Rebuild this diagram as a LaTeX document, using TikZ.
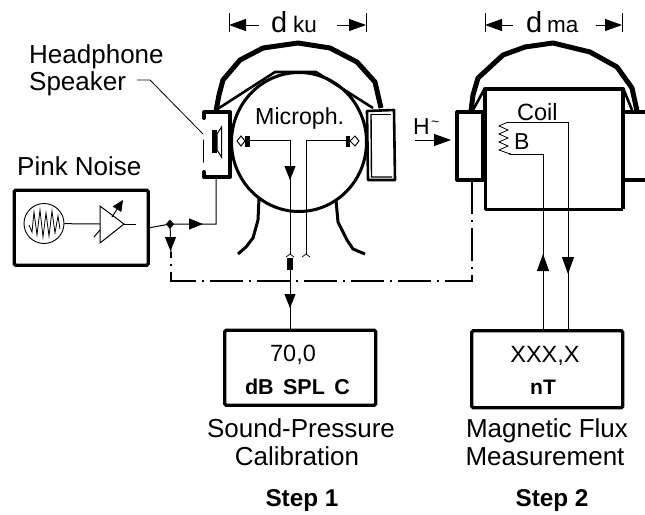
\documentclass[tikz,border=0pt]{standalone}
\usepackage{fontspec}
\setmainfont{Liberation Sans}
\usetikzlibrary{arrows.meta,calc}
\newcommand{\fsz}[1]{\fontsize{#1}{#1}\selectfont}
\tikzset{
  txt/.style={inner sep=0pt,anchor=base,text=black},
  txtw/.style={inner sep=0pt,anchor=base west,text=black},
  heavy/.style={line width=4pt,line join=round,line cap=round},
  band/.style={line width=5pt,line join=round,line cap=butt},
  mid/.style={line width=2.6pt,line join=round},
  wire/.style={line width=1pt},
  hair/.style={line width=0.7pt},
  tip/.style={line width=1pt,-{Triangle[length=14pt,width=11pt]}},
  bigtip/.style={line width=1pt,-{Triangle[length=17pt,width=12pt]}},
  dashdot/.style={line width=2pt,dash pattern=on 33pt off 6pt on 2pt off 6pt,dash phase=27pt},
  display/.style={draw,line width=3.4pt,rounded corners=1.5pt,inner sep=0pt,anchor=north west}
}
\begin{document}
\begin{tikzpicture}[x=1pt,y=-1pt]
\useasboundingbox (0,0) rectangle (645,514);
% ---- named points
\coordinate (junction) at (170,224);
\coordinate (spkwire) at (216,224);
\coordinate (spkout) at (216,162);
\coordinate (ddL) at (171,252);
\coordinate (ddLc) at (171,280.5);
\coordinate (ddRc) at (472,280.5);
\coordinate (ddR) at (472,181);
\coordinate (micLjack) at (290,255);
\coordinate (micRjack) at (306,255);
\coordinate (micLc) at (290,140);
\coordinate (micRc) at (306,140);
\coordinate (coilA) at (568,122);
\coordinate (coilB) at (543,154);
% ---- boxes
\node[display,minimum width=134pt,minimum height=75pt] (pink) at (12.5,188.5) {};
\node[display,minimum width=151pt,minimum height=75pt] (box1) at (223,328.5) {};
\node[display,minimum width=151pt,minimum height=77pt] (box2) at (470,329) {};
\node[draw,circle,line width=0.9pt,minimum size=40pt,inner sep=0pt] (osc) at (44,223.5) {};
\draw[line width=0.8pt] (29,225)--(32,232)--(34,212)--(37,235)--(40,210)--(43,237)--(46,213)--(49,236)--(52,211)--(55,233)--(58,216)--(60,229);
% amplifier
\coordinate (ampin) at (100,224);
\coordinate (ampout) at (124,224);
\coordinate (ampend) at (136,224);
\draw[wire,line join=miter] (100,206)--(124,224)--(100,243)--cycle;
\draw[wire] (osc) -- (ampin);
\draw[wire] (ampout) -- (ampend);
\draw[wire] (94,237)--(100,230);
\draw[wire,-{Triangle[length=11pt,width=10pt]}] (112,217)--(123,200);
% output wire
\draw[wire] (pink.east) -- (junction) -- (spkwire) -- (spkout) -- (203.5,162) -- (203.5,140) -- (212,140);
\draw[tip] (189,224) -- (203,224);
\fill (170,219.5)--(174,224)--(170,229)--(166,224)--cycle;
\draw[wire] (junction) -- (ddL);
\draw[tip] (170.5,232) -- (170.5,251);
% dash-dot reference line
\draw[dashdot] (ddL) -- (ddLc) -- (ddRc) -- (ddR);
% ---- Step 1 headphone
\draw[band] (216,111)--(219,95)--(223,80)--(240,60)--(263,48)--(298,43)--(330,48)--(357,62)--(375,82)--(381,108);
\draw[mid] (216,110)--(275,72)--(316,72)--(373,108);
\draw[line width=3pt] (299,142) ellipse [x radius=67.5pt,y radius=69.5pt];
\fill[white] (204,113) rectangle (229,177);
\draw[heavy] (204,118)--(204,112)--(230,112)--(230,177)--(204,177)--(204,172);
\draw[line width=2.6pt,line join=round] (367,111)--(394,110)--(395,180)--(368,180)--cycle;
\draw[line width=1pt] (371,114)--(391,114);
\draw[line width=1.4pt] (371,114)--(371.5,177)--(392,177);
% speaker
\fill (212,130) rectangle (217,153);
\draw[line width=1pt,fill=white] (217,134)--(221.5,127)--(221.5,157)--(217,150)--cycle;
\draw[line width=0.8pt] (137,80)--(150,80)--(203,134);
% neck
\draw[line width=3pt,line join=round] (259,198)--(258,220)--(253,238)--(246,247)--(238,254);
\draw[line width=3pt,line join=round] (336,200)--(338,222)--(347,240)--(353,249)--(365,254);
% microphones
\draw[wire] (248,140) -- (micLc) -- (micLjack);
\draw[wire] (348,140) -- (micRc) -- (micRjack);
\draw[tip] (290,166) -- (290,180);
\fill (245,135.5) rectangle (249.5,147);
\fill (346,135.5) rectangle (350,147);
\draw[wire,fill=white] (245,141)--(241,136)--(237,141)--(241,146)--cycle;
\draw[wire,fill=white] (350,141)--(355,136)--(359,141)--(355,146)--cycle;
\draw[hair] (286,257)--(290,254)--(294,257);
\draw[hair] (302,257)--(306,254)--(310,257);
\fill (287,257.5) rectangle (293,270);
\draw[wire] (290,270) -- (box1.north -| 290,0);
\draw[tip] (290,290) -- (290,308);
% ---- Step 2 headphone
\draw[band] (471,111)--(473,95)--(478,78)--(503,55)--(525,47)--(553,43)--(590,52)--(617,67)--(632,88)--(637,111);
\draw[mid] (473,110)--(485,88);
\draw[mid] (623,88)--(632,110);
\draw[line width=3.2pt,line join=round] (457,112) rectangle (483,180);
\draw[line width=4pt,line join=round] (485,180)--(485,89)--(622.5,89)--(622.5,209);
\draw[line width=3pt,line join=round] (485,180)--(485,209.5)--(622.5,209.5);
\draw[line width=3.2pt] (622,112)--(645,112);
\draw[line width=3.2pt] (622,180)--(645,180);
% coil
\draw[wire] (508,122) -- (coilA) -- (coilA |- box2.north);
\draw[wire] (510,154) -- (coilB) -- (coilB |- box2.north);
\draw[line width=0.8pt] (508,122)--(499,126)--(508,130)--(499,134)--(508,138)--(499,142)--(508,146)--(499,150)--(510,154);
\fill (510,154) circle (1.2pt);
\draw[bigtip] (543,274) -- (543,254);
\draw[bigtip] (568,257) -- (568,274);
% H field arrow
\draw[bigtip] (415,140) -- (451,140);
\node[txtw,font=\fsz{23}] (hlabel) at (413,134) {H};
\node[txtw,font=\fsz{14}] (hsub) at (431,128) {\raisebox{2pt}{\textasciitilde}};
% dimensions
\coordinate (kuL) at (229,25); \coordinate (kuR) at (366,25);
\coordinate (maL) at (485,25); \coordinate (maR) at (622,25);
\draw[wire] (229,13)--(229,32); \draw[wire] (366,13)--(366,32);
\draw[wire] (485,13)--(485,32); \draw[wire] (622,13)--(622,32);
\draw[line width=1pt,-{Triangle[length=17pt,width=12pt]}] (259,25) -- (kuL);
\draw[line width=1pt,-{Triangle[length=17pt,width=12pt]}] (337,25) -- (kuR);
\draw[line width=1pt,-{Triangle[length=17pt,width=12pt]}] (513,25) -- (maL);
\draw[line width=1pt,-{Triangle[length=17pt,width=12pt]}] (596,25) -- (maR);
\node[txtw,font=\fsz{29}] (dku) at (271,32) {d};
\node[txtw,font=\fsz{22.5}] (ku) at (293,32) {ku};
\node[txtw,font=\fsz{29}] (dma) at (526,32) {d};
\node[txtw,font=\fsz{22.5}] (ma) at (547,32) {ma};
% labels
\node[txtw,font=\fsz{26}] (hp) at (29,63) {Headphone};
\node[txtw,font=\fsz{26}] (spk) at (29,90) {Speaker};
\node[txtw,font=\fsz{26}] (pn) at (17,175) {Pink Noise};
\node[txtw,font=\fsz{23.2}] (mic) at (255,124) {Microph.};
\node[txtw,font=\fsz{23.5}] (coil) at (517,120) {Coil};
\node[txtw,font=\fsz{23}] (bl) at (514,149) {B};
\node[txt,font=\fsz{23.5}] (v1) at (293,361) {70,0};
\node[txt,font=\bfseries\fsz{21.5}] (u1) at (297.5,394) {dB\hspace{3.5pt} SPL\hspace{3.5pt} C};
\node[txt,font=\fsz{23.5}] (v2) at (545,362) {XXX,X};
\node[txt,font=\bfseries\fsz{21}] (u2) at (543,394) {nT};
\node[txt,font=\fsz{26}] (c1a) at (301,437) {Sound-Pressure};
\node[txt,font=\fsz{26}] (c1b) at (297,465) {Calibration};
\node[txt,font=\fsz{26}] (c2a) at (547,437) {Magnetic Flux};
\node[txt,font=\fsz{26}] (c2b) at (545,465) {Measurement};
\node[txt,font=\bfseries\fsz{24.3}] (s1) at (302,506) {Step 1};
\node[txt,font=\bfseries\fsz{24.3}] (s2) at (552,506) {Step 2};
\end{tikzpicture}
\end{document}
